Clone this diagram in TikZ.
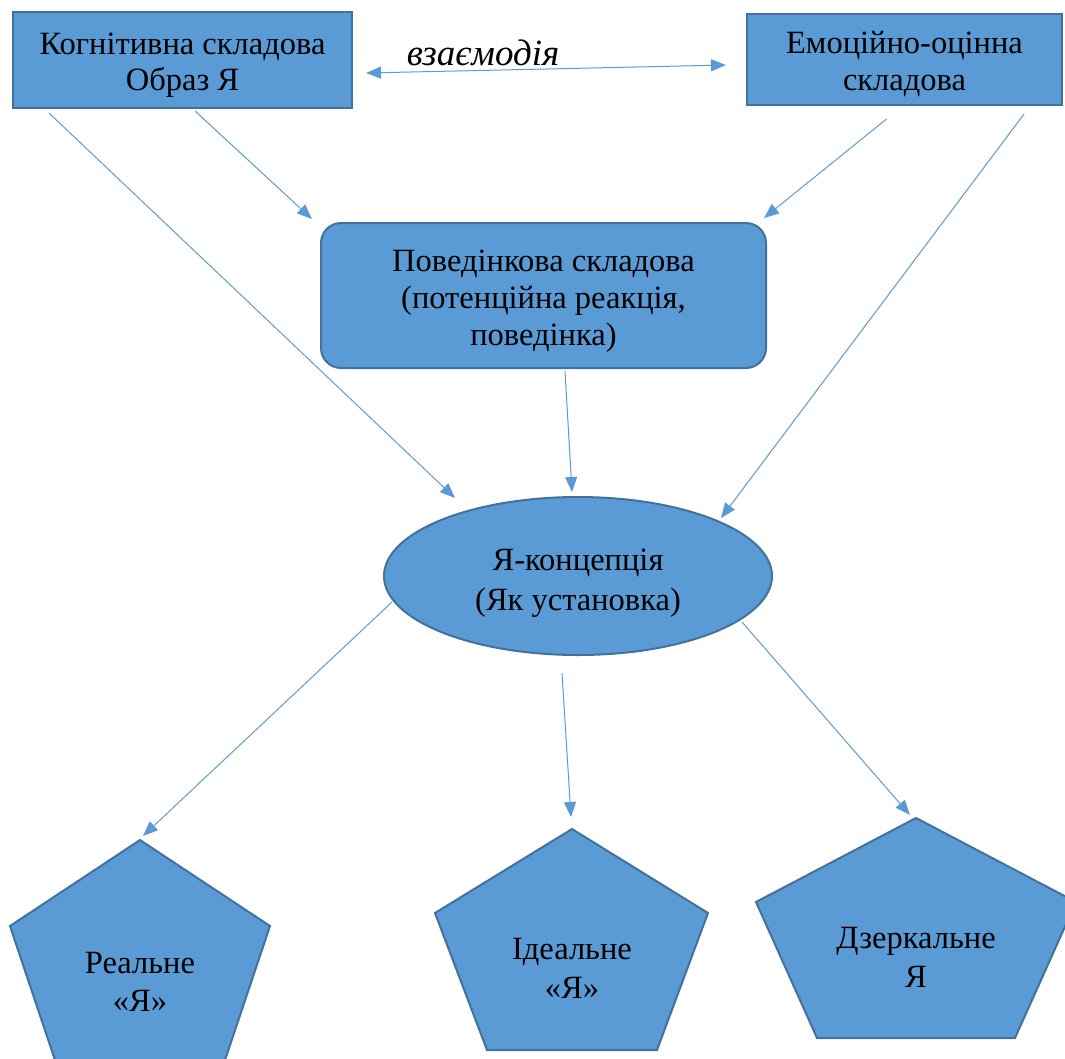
\documentclass[tikz,border=0pt]{standalone}
\usepackage{fontspec}
\setmainfont{Liberation Serif}
\usetikzlibrary{arrows.meta,shapes.geometric,calc}
\definecolor{ofill}{HTML}{5B9BD5}
\definecolor{oline}{HTML}{41719C}
\tikzset{
  blk/.style={draw=oline,line width=2pt,fill=ofill,inner sep=0pt},
  txt/.style={align=center,inner sep=0pt,font=\fontsize{32.5}{37}\selectfont},
  pent/.style={draw=oline,line width=2pt,fill=ofill},
  arr/.style={draw=ofill,line width=1pt,-{Triangle[length=15pt,width=12pt]}},
  darr/.style={draw=ofill,line width=1pt,{Triangle[length=15pt,width=12pt]}-{Triangle[length=15pt,width=12pt]}},
}
\begin{document}
\begin{tikzpicture}[x=1pt,y=-1pt]
\useasboundingbox (0,0) rectangle (1065,1058);
\clip (0,0) rectangle (1065,1058);
% top boxes
\node[blk,rectangle,minimum width=339pt,minimum height=96pt] (b1) at (182.5,60) {};
\node[txt,font=\fontsize{32.5}{35.5}\selectfont] (b1t) at ($(b1.center)+(0,5)$) {Когнітивна складова\\Образ Я};
\node[blk,rectangle,minimum width=315pt,minimum height=91pt] (b2) at (904.5,59.5) {};
\node[txt] (b2t) at ($(b2.center)+(0,5)$) {Емоційно-оцінна\\складова};
\node[inner sep=0pt,font=\fontsize{37}{40}\selectfont\itshape] (lbl) at (483,53) {взаємодія};
% behaviour box
\node[blk,rectangle,rounded corners=20pt,minimum width=445pt,minimum height=145pt] (b3) at (543.5,295.5) {};
\node[txt] (b3t) at ($(b3.center)+(0,6)$) {Поведінкова складова\\(потенційна реакція,\\поведінка)};
% ellipse
\node[blk,ellipse,minimum width=388pt,minimum height=158pt] (el) at (578,576) {};
\node[txt,font=\fontsize{32.5}{40}\selectfont] (elt) at ($(el.center)+(0,7)$) {Я-концепція\\(Як установка)};
% pentagons
\coordinate (p1top) at (140,840);
\draw[pent] (p1top) -- (270,926) -- (223,1066) -- (57,1066) -- (10,926) -- cycle;
\node[txt,font=\fontsize{32.5}{38}\selectfont] (p1) at (140,982) {Реальне\\«Я»};
\coordinate (p2top) at (572,829);
\draw[pent] (p2top) -- (708,913) -- (657,1050) -- (487,1050) -- (435,913) -- cycle;
\node[txt,font=\fontsize{32.5}{39}\selectfont] (p2) at (572,968) {Ідеальне\\«Я»};
\coordinate (p3top) at (916,818);
\draw[pent] (p3top) -- (1076,902) -- (1015,1038) -- (817,1038) -- (756,902) -- cycle;
\node[txt,font=\fontsize{32.5}{39}\selectfont] (p3) at (916,957) {Дзеркальне\\Я};
% connectors
\draw[darr] ($(b1.east)+(13,13)$) -- ($(b2.west)+(-20,5.5)$);
\draw[arr] ($(b1.south)+(12.5,2)$) -- ($(b3.north west)+(-8,-3)$);
\draw[arr] ($(b1.south west)+(37,4)$) -- ($(el.center)+(-123,-78)$);
\draw[arr] ($(b2.south)+(-18,13)$) -- ($(b3.north east)+(-3,-4)$);
\draw[arr] ($(b2.south east)+(-39,8)$) -- ($(el.center)+(143,-58)$);
\draw[arr] ($(b3.south)+(21.5,2)$) -- ($(el.center)+(-6,-84)$);
\draw[arr] ($(el.center)+(-186,26)$) -- ($(p1top)+(3,-4)$);
\draw[arr] ($(el.center)+(-16,97)$) -- ($(p2top)+(-1,-12)$);
\draw[arr] ($(el.center)+(164,46)$) -- ($(p3top)+(-6,-3)$);
\end{tikzpicture}
\end{document}
